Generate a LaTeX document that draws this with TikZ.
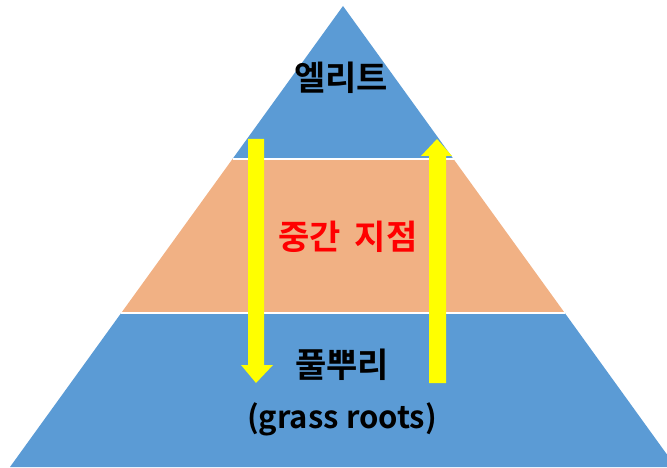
\documentclass[tikz,border=0pt]{standalone}
\usepackage{fontspec}
\newfontfamily\kofont{Noto Sans CJK KR Bold}
\definecolor{tierblue}{HTML}{5B9BD5}
\definecolor{tierorange}{HTML}{F1B184}
\definecolor{arrowyellow}{HTML}{FFFF00}
\begin{document}
\begin{tikzpicture}[
  x=1pt, y=-1pt,
  every node/.style={font=\kofont\fontsize{34}{36}\selectfont, align=center, inner sep=0pt},
  latin/.style={font=\kofont\fontsize{31}{33}\selectfont},
  flow/.style={fill=arrowyellow, draw=none}
]
\useasboundingbox (0,0) rectangle (667,468);
\clip (0,0) rectangle (667,468);
% tiers
\fill[tierblue] (10,467) -- (121.2,313) -- (564.8,313) -- (676,467) -- cycle;
\fill[tierorange] (121.2,313) -- (232.5,159) -- (453.5,159) -- (564.8,313) -- cycle;
\fill[tierblue] (232.5,159) -- (343,6) -- (453.5,159) -- cycle;
\draw[white, line width=1.5pt] (121.2,313) -- (564.8,313);
\draw[white, line width=1.5pt] (232.5,159) -- (453.5,159);
% arrows
\fill[flow] (248,139) -- (264,139) -- (264,365) -- (273,365) -- (256,383)
  -- (241,365) -- (248,365) -- cycle;
\fill[flow] (429,383) -- (446,383) -- (446,156) -- (452,156) -- (437,139)
  -- (421,156) -- (429,156) -- cycle;
% labels
\node (elite) at (341,78) {엘리트};
\node[text=red] (middle) at (348,237) {중간\hspace{0.4em}지점};
\node (grass) at (342,365) {풀뿌리};
\node[latin] (grassen) at (342,419) {(grass roots)};
\end{tikzpicture}
\end{document}
